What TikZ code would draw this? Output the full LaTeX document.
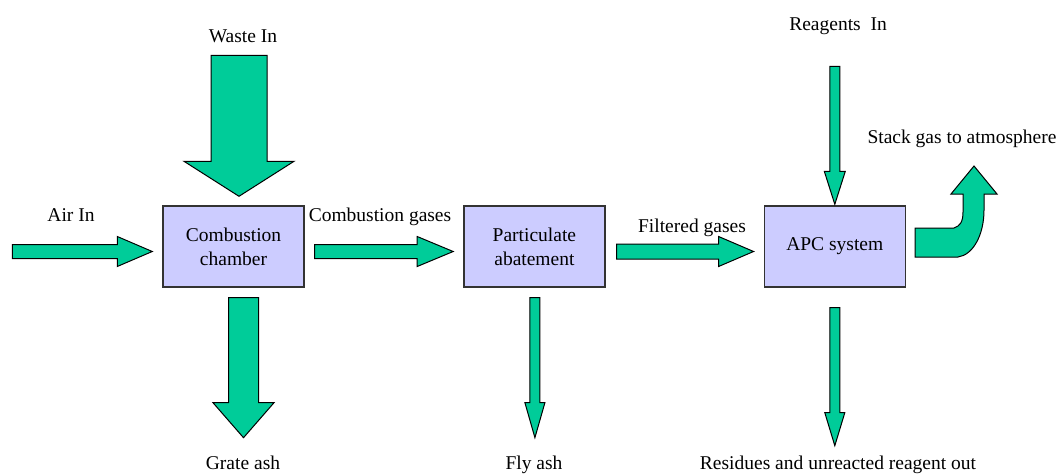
\documentclass[tikz,border=0pt]{standalone}
\usepackage{fontspec}
\setmainfont{Liberation Serif}
\usetikzlibrary{calc}
\usetikzlibrary{positioning, shapes}

\definecolor{flowgreen}{RGB}{0,204,153}
\definecolor{unitblue}{RGB}{204,204,255}

\tikzset{
  unit/.style={draw=black!80, line width=1.4pt, fill=unitblue, minimum width=141pt,
    minimum height=81pt, align=center, font=\fontsize{19.5}{24}\selectfont},
  flow/.style={draw=black, line width=1pt, fill=flowgreen, line join=miter},
  tag/.style={anchor=base, inner sep=0pt, font=\fontsize{19.5}{24}\selectfont}
}

% block arrow: start, tip, shaft half width, head half width, head length
\newcommand{\flowarrow}[5]{%
  \coordinate (fa-base) at ($(#2)!#5pt!(#1)$);
  \draw[flow] ($(#1)!#3pt!90:(#2)$) -- ($(fa-base)!#3pt!90:(#2)$)
    -- ($(fa-base)!#4pt!90:(#2)$) -- (#2) -- ($(fa-base)!#4pt!-90:(#2)$)
    -- ($(fa-base)!#3pt!-90:(#2)$) -- ($(#1)!#3pt!-90:(#2)$) -- cycle;
}

\begin{document}
\begin{tikzpicture}[x=1pt,y=-1pt]
\useasboundingbox (0,0) rectangle (1062,474);

% process units
\node[unit] (comb) at (233.5,246.5) {Combustion\\chamber};
\node[unit, right=158.5pt of comb] (part) {Particulate\\abatement};
\node[unit, right=158pt of part] (apc) {APC system};

% arrow ends
\coordinate (waste-s) at ($(comb.north)+(5.5,-150)$);
\coordinate (waste-t) at ($(comb.north)+(5.5,-9)$);
\coordinate (air-s) at ($(comb.west)+(-150,5)$);
\coordinate (air-t) at ($(comb.west)+(-10,5)$);
\coordinate (cg-s) at ($(comb.east)+(10,5)$);
\coordinate (cg-t) at ($(part.west)+(-10,5)$);
\coordinate (fg-s) at ($(part.east)+(11,5)$);
\coordinate (fg-t) at ($(apc.west)+(-10,5)$);
\coordinate (grate-s) at ($(comb.south)+(10,10)$);
\coordinate (grate-t) at ($(comb.south)+(10,150)$);
\coordinate (fly-s) at ($(part.south)+(0.5,10)$);
\coordinate (fly-t) at ($(part.south)+(0.5,150)$);
\coordinate (reag-s) at ($(apc.north)+(0,-139)$);
\coordinate (reag-t) at ($(apc.north)+(0,-1)$);
\coordinate (res-s) at ($(apc.south)+(0,20)$);
\coordinate (res-t) at ($(apc.south)+(0,158)$);

\flowarrow{waste-s}{waste-t}{28}{55}{35}
\flowarrow{air-s}{air-t}{7}{15}{35}
\flowarrow{cg-s}{cg-t}{7}{15}{36}
\flowarrow{fg-s}{fg-t}{7.5}{15}{35}
\flowarrow{grate-s}{grate-t}{15}{30.5}{35}
\flowarrow{fly-s}{fly-t}{5}{10}{35}
\flowarrow{reag-s}{reag-t}{5}{10.5}{33}
\flowarrow{res-s}{res-t}{5}{10}{33}

% bent stack arrow
\begin{scope}[shift={(apc.east)}]
\draw[flow] (9,-18.5) -- (48,-18.5) .. controls (54,-20.5) and (57,-24.5) .. (57,-34.5)
  -- (57,-52.5) -- (45,-52.5) -- (68,-80.5) -- (91,-52.5) -- (78,-52.5) -- (78,-36.5)
  .. controls (78,-11.5) and (67,8.5) .. (52,10.5) -- (9,10.5) -- cycle;
\end{scope}

% labels
\node[tag] (waste-l) at (243,42) {Waste In};
\node[tag] (air-l) at (71,221) {Air In};
\node[tag] (cg-l) at (380,221) {Combustion gases};
\node[tag] (fg-l) at (692,232) {Filtered gases};
\node[tag] (reag-l) at (838,30) {Reagents\ \ In};
\node[tag] (stack-l) at (962,143) {Stack gas to atmosphere};
\node[tag] (grate-l) at (243,469) {Grate ash};
\node[tag] (fly-l) at (534,469) {Fly ash};
\node[tag] (res-l) at (838,469) {Residues and unreacted reagent out};
\end{tikzpicture}
\end{document}
